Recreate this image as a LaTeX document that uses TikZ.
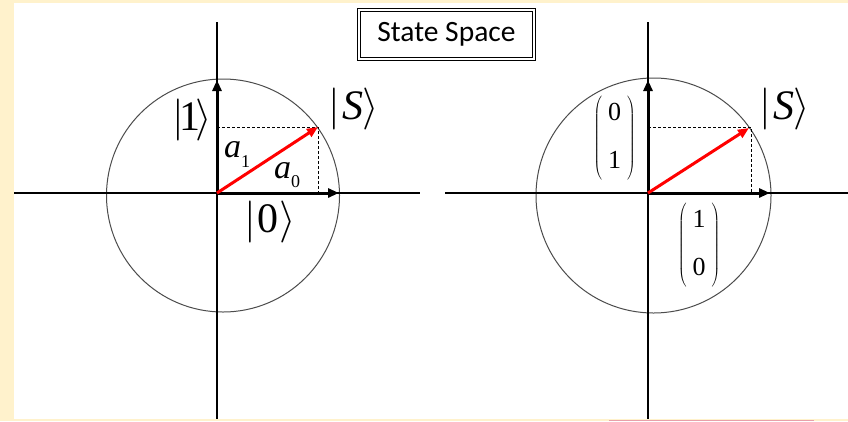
\RequirePackage{fix-cm}
\documentclass[tikz,border=0pt]{standalone}
\usepackage{fontspec}
\setmainfont{Liberation Serif}
\newfontfamily\calib{Carlito}
\usetikzlibrary{arrows.meta}
\definecolor{cream}{RGB}{255,242,204}
\definecolor{pinkline}{RGB}{232,160,170}
\newcommand{\colvec}[2]{\fontsize{26}{30}\selectfont$\left(\vcenter{\hbox{\rule{0pt}{86pt}}}\begin{array}{@{\hspace{6pt}}c@{\hspace{6pt}}}\mbox{#1}\\[18pt]\mbox{#2}\end{array}\right)$}
\begin{document}
\begin{tikzpicture}[x=1pt,y=-1pt,
  axis/.style={line width=1.1pt,black},
  circ/.style={line width=1pt,draw=black!70},
  vec/.style={line width=3pt,-{Triangle[length=11pt,width=9pt]}},
  redvec/.style={vec,red},
  proj/.style={line width=0.8pt,dash pattern=on 3pt off 2pt},
  lbl/.style={inner sep=0pt,outer sep=0pt}]
\useasboundingbox (0,0) rectangle (848,421);
\fill[cream] (0,0) rectangle (848,421);
\fill[white] (14,3) rectangle (848,419);
\fill[pinkline] (609,419.5) rectangle (814,421);

% title
\node[draw,double,double distance=2.5pt,line width=0.9pt,inner sep=0pt,
      minimum width=174.7pt,minimum height=48.7pt] (title) at (446.5,34.5)
      {\calib\fontsize{29.5}{29.5}\selectfont State Space};

% ---------- left diagram ----------
\coordinate (O1) at (217,193);
\coordinate (C1) at (223,195.5);
\coordinate (L1) at (14,193);
\coordinate (R1) at (420,193);
\coordinate (T1) at (217,22);
\coordinate (B1) at (217,419);
\coordinate (X1) at (339,193);
\coordinate (Y1) at (217,80);
\coordinate (S1) at (318,127);
\coordinate (P1x) at (318,193);
\coordinate (P1y) at (217,127);
\draw[circ] (C1) circle[radius=116.5];
\draw[axis] (L1) -- (R1);
\draw[axis] (T1) -- (B1);
\draw[proj] (P1y) -- (S1) -- (P1x);
\draw[vec] (O1) -- (X1);
\draw[vec] (O1) -- (Y1);
\draw[redvec] (O1) -- (S1);

\node[lbl] (k1) at (192,120) {\fontsize{42}{42}\selectfont$|$\kern-4pt 1\kern-5pt$\rangle$};
\node[lbl] (k0) at (270,222) {\fontsize{42}{42}\selectfont$|$\kern2pt 0\kern1pt$\rangle$};
\node[lbl] (kS1) at (353.5,108.5) {\fontsize{42}{42}\selectfont$|$\kern2pt\textit{S}\kern-1pt$\rangle$};
\node[lbl,anchor=base west] (a1) at (224,157)
  {\fontsize{34}{34}\selectfont\textit{a}\raisebox{-10pt}{\fontsize{18}{18}\selectfont 1}};
\node[lbl,anchor=base west] (a0) at (274,178)
  {\fontsize{34}{34}\selectfont\textit{a}\raisebox{-9pt}{\fontsize{18}{18}\selectfont 0}};

% ---------- right diagram ----------
\coordinate (O2) at (648,193);
\coordinate (C2) at (653.5,195.5);
\coordinate (L2) at (445,193);
\coordinate (R2) at (848,193);
\coordinate (T2) at (648,22);
\coordinate (B2) at (648,419);
\coordinate (X2) at (770,193);
\coordinate (Y2) at (648,80);
\coordinate (S2) at (749,128);
\coordinate (D2) at (751,127);
\coordinate (P2x) at (751,193);
\coordinate (P2y) at (648,127);
\draw[circ] (C2) circle[radius=117.5];
\draw[axis] (L2) -- (R2);
\draw[axis] (T2) -- (B2);
\draw[proj] (P2y) -- (D2) -- (P2x);
\draw[vec] (O2) -- (X2);
\draw[vec] (O2) -- (Y2);
\draw[redvec] (O2) -- (S2);

\node[lbl] (kS2) at (784.5,108.5) {\fontsize{42}{42}\selectfont$|$\kern2pt\textit{S}\kern-1pt$\rangle$};
\node[lbl] (v01) at (614.5,138) {\colvec{0}{1}};
\node[lbl] (v10) at (699,245) {\colvec{1}{0}};
\end{tikzpicture}
\end{document}
